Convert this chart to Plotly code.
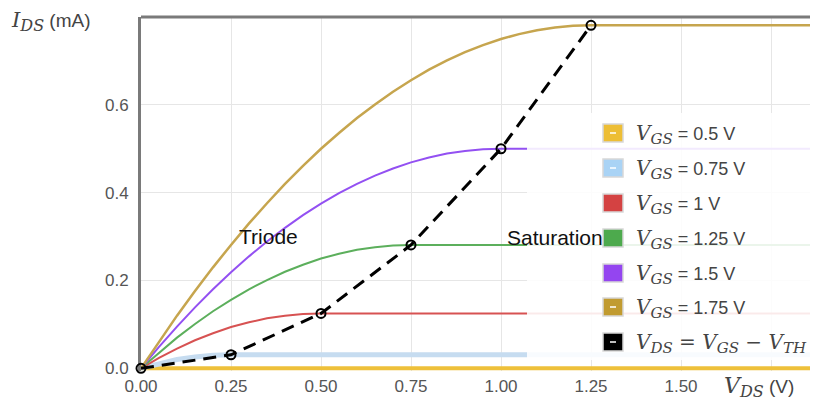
import plotly.graph_objects as go

# ---- data ----
VDS = [0.00, 0.05, 0.10, 0.15, 0.20, 0.25, 0.30, 0.35, 0.40, 0.45, 0.50, 0.55, 0.60, 0.65,
       0.70, 0.75, 0.80, 0.85, 0.90, 0.95, 1.00, 1.05, 1.10, 1.15, 1.20, 1.25, 2.00]

ID_050 = [0.0] * 27
ID_075 = [0.000, 0.011, 0.020, 0.026, 0.030, 0.031, 0.031, 0.031, 0.031, 0.031, 0.031, 0.031, 0.031, 0.031,
          0.031, 0.031, 0.031, 0.031, 0.031, 0.031, 0.031, 0.031, 0.031, 0.031, 0.031, 0.031, 0.031]
ID_100 = [0.000, 0.024, 0.045, 0.064, 0.080, 0.094, 0.105, 0.114, 0.120, 0.124, 0.125, 0.125, 0.125, 0.125,
          0.125, 0.125, 0.125, 0.125, 0.125, 0.125, 0.125, 0.125, 0.125, 0.125, 0.125, 0.125, 0.125]
ID_125 = [0.000, 0.036, 0.070, 0.101, 0.130, 0.156, 0.180, 0.201, 0.220, 0.236, 0.250, 0.261, 0.270, 0.276,
          0.280, 0.281, 0.281, 0.281, 0.281, 0.281, 0.281, 0.281, 0.281, 0.281, 0.281, 0.281, 0.281]
ID_150 = [0.000, 0.049, 0.095, 0.139, 0.180, 0.219, 0.255, 0.289, 0.320, 0.349, 0.375, 0.399, 0.420, 0.439,
          0.455, 0.469, 0.480, 0.489, 0.495, 0.499, 0.500, 0.500, 0.500, 0.500, 0.500, 0.500, 0.500]
ID_175 = [0.000, 0.061, 0.120, 0.176, 0.230, 0.281, 0.330, 0.376, 0.420, 0.461, 0.500, 0.536, 0.570, 0.601,
          0.630, 0.656, 0.680, 0.701, 0.720, 0.736, 0.750, 0.761, 0.770, 0.776, 0.780, 0.781, 0.781]

SAT_VDS = [0.00, 0.25, 0.50, 0.75, 1.00, 1.25]
SAT_ID = [0.000, 0.031, 0.125, 0.281, 0.500, 0.781]

X_TICKS = [0, 0.25, 0.5, 0.75, 1.0, 1.25, 1.5, 1.75]
X_LABELS = ["0.00", "0.25", "0.50", "0.75", "1.00", "1.25", "1.50", ""]
Y_TICKS = [0, 0.2, 0.4, 0.6, 0.8]
Y_LABELS = ["0.0", "0.2", "0.4", "0.6", ""]

SERIES = [
    ("0.5", ID_050, "#EEC03A", 4, "#EDBE35", True),
    ("0.75", ID_075, "#C6DCF0", 5, "#A9D3F5", True),
    ("1", ID_100, "#D75252", 2, "#D44242", False),
    ("1.25", ID_125, "#5CAF5C", 2, "#4DAA4D", False),
    ("1.5", ID_150, "#9350F2", 2, "#9445F0", False),
    ("1.75", ID_175, "#C6A54E", 2.5, "#C19B30", True),
]

# ---- layout geometry (page has an 8px body margin) ----
OFF = 8
W, H = 818 - OFF, 401 - OFF
ML, MR, MT, MB = 141 - OFF, 0, 17 - OFF, 30
PW, PH = W - ML - MR, H - MT - MB


def px(xp):
    return (xp - OFF - ML) / PW


def py(yp):
    return (H - MB - (yp - OFF)) / PH


fig = go.Figure()
for name, ys, col, lw, _, _ in SERIES:
    fig.add_trace(go.Scatter(x=VDS, y=ys, mode="lines", line=dict(color=col, width=lw),
                             showlegend=False, hoverinfo="skip"))

fig.add_trace(go.Scatter(x=SAT_VDS, y=SAT_ID, mode="lines+markers",
                         line=dict(color="black", width=3, dash="13px,8px"),
                         marker=dict(symbol="circle-open", size=9, color="black",
                                     line=dict(color="black", width=2)),
                         cliponaxis=False, showlegend=False, hoverinfo="skip"))

shapes = []
annotations = []

# top border
shapes.append(dict(type="line", xref="paper", yref="paper", x0=0, x1=1, y0=1, y1=1,
                   line=dict(color="#7a7a7a", width=3), layer="above"))

# legend background
shapes.append(dict(type="rect", xref="paper", yref="paper", x0=px(527), x1=1.0,
                   y0=py(360), y1=py(113), fillcolor="rgba(255,255,255,0.88)",
                   line=dict(width=0), layer="above"))

SERIF = "font-family:'DejaVu Serif',serif;"


def mvar(main, sub, big=20, small=15):
    return (f"<span style=\"{SERIF}font-size:{big}px\"><i>{main}</i></span>"
            f"<sub><span style=\"{SERIF}font-size:{small}px\"><i>{sub}</i></span></sub>")


rows = [133, 168, 203, 238, 273, 307, 342]
labels = [mvar("V", "GS") + f" = {s[0]} V" for s in SERIES]
labels.append(mvar("V", "DS") + f"<span style=\"{SERIF}font-size:20px\"> = </span>" + mvar("V", "GS")
              + f"<span style=\"{SERIF}font-size:20px\"> \u2212 </span>" + mvar("V", "TH"))
swcols = [s[4] for s in SERIES] + ["#000000"]
dashes = [s[5] for s in SERIES] + [True]

for yc, lab, sc, dsh in zip(rows, labels, swcols, dashes):
    shapes.append(dict(type="rect", xref="paper", yref="paper", x0=px(603), x1=px(623),
                       y0=py(yc + 9), y1=py(yc - 9), fillcolor=sc,
                       line=dict(color="#d8d8d8", width=1.5), layer="above"))
    if dsh:
        shapes.append(dict(type="line", xref="paper", yref="paper", x0=px(610), x1=px(616),
                           y0=py(yc), y1=py(yc), line=dict(color="white", width=1.5), layer="above"))
    annotations.append(dict(xref="paper", yref="paper", x=px(634), y=py(yc + 1), text=lab,
                            showarrow=False, xanchor="left", yanchor="middle",
                            font=dict(family="Liberation Sans, Arial", size=18, color="#444")))

# region labels
annotations.append(dict(xref="paper", yref="paper", x=px(268), y=py(236), text="Triode",
                        showarrow=False, xanchor="center", yanchor="middle",
                        font=dict(family="Liberation Sans, Arial", size=21, color="#111")))
annotations.append(dict(xref="paper", yref="paper", x=px(555), y=py(237), text="Saturation",
                        showarrow=False, xanchor="center", yanchor="middle",
                        font=dict(family="Liberation Sans, Arial", size=21, color="#111")))

# axis titles
annotations.append(dict(xref="paper", yref="paper", x=px(9), y=py(21),
                        text=mvar("I", "DS", 21, 16) + " (mA)", showarrow=False,
                        xanchor="left", yanchor="middle",
                        font=dict(family="Liberation Sans, Arial", size=19, color="#444")))
annotations.append(dict(xref="paper", yref="paper", x=px(722), y=py(387),
                        text=mvar("V", "DS", 22, 16) + " (V)", showarrow=False,
                        xanchor="left", yanchor="middle",
                        font=dict(family="Liberation Sans, Arial", size=19, color="#444")))

fig.update_layout(
    width=W, height=H,
    margin=dict(l=ML, r=MR, t=MT, b=MB),
    paper_bgcolor="white", plot_bgcolor="white",
    showlegend=False,
    shapes=shapes, annotations=annotations,
    xaxis=dict(range=[0, PW / 360.0], tickvals=X_TICKS, ticktext=X_LABELS,
               showgrid=True, gridcolor="#e6e6e6", gridwidth=1, zeroline=False,
               showline=False, ticks="", ticklabelstandoff=3, layer="below traces",
               tickfont=dict(family="Liberation Sans, Arial", size=17, color="#555")),
    yaxis=dict(range=[-0.006, 0.8], tickvals=Y_TICKS, ticktext=Y_LABELS,
               showgrid=True, gridcolor="#e6e6e6", gridwidth=1, zeroline=False,
               showline=True, linecolor="#7a7a7a", linewidth=3, ticks="",
               ticklabelstandoff=6, layer="below traces",
               tickfont=dict(family="Liberation Sans, Arial", size=17, color="#555")),
)

fig.write_html("out.html")
